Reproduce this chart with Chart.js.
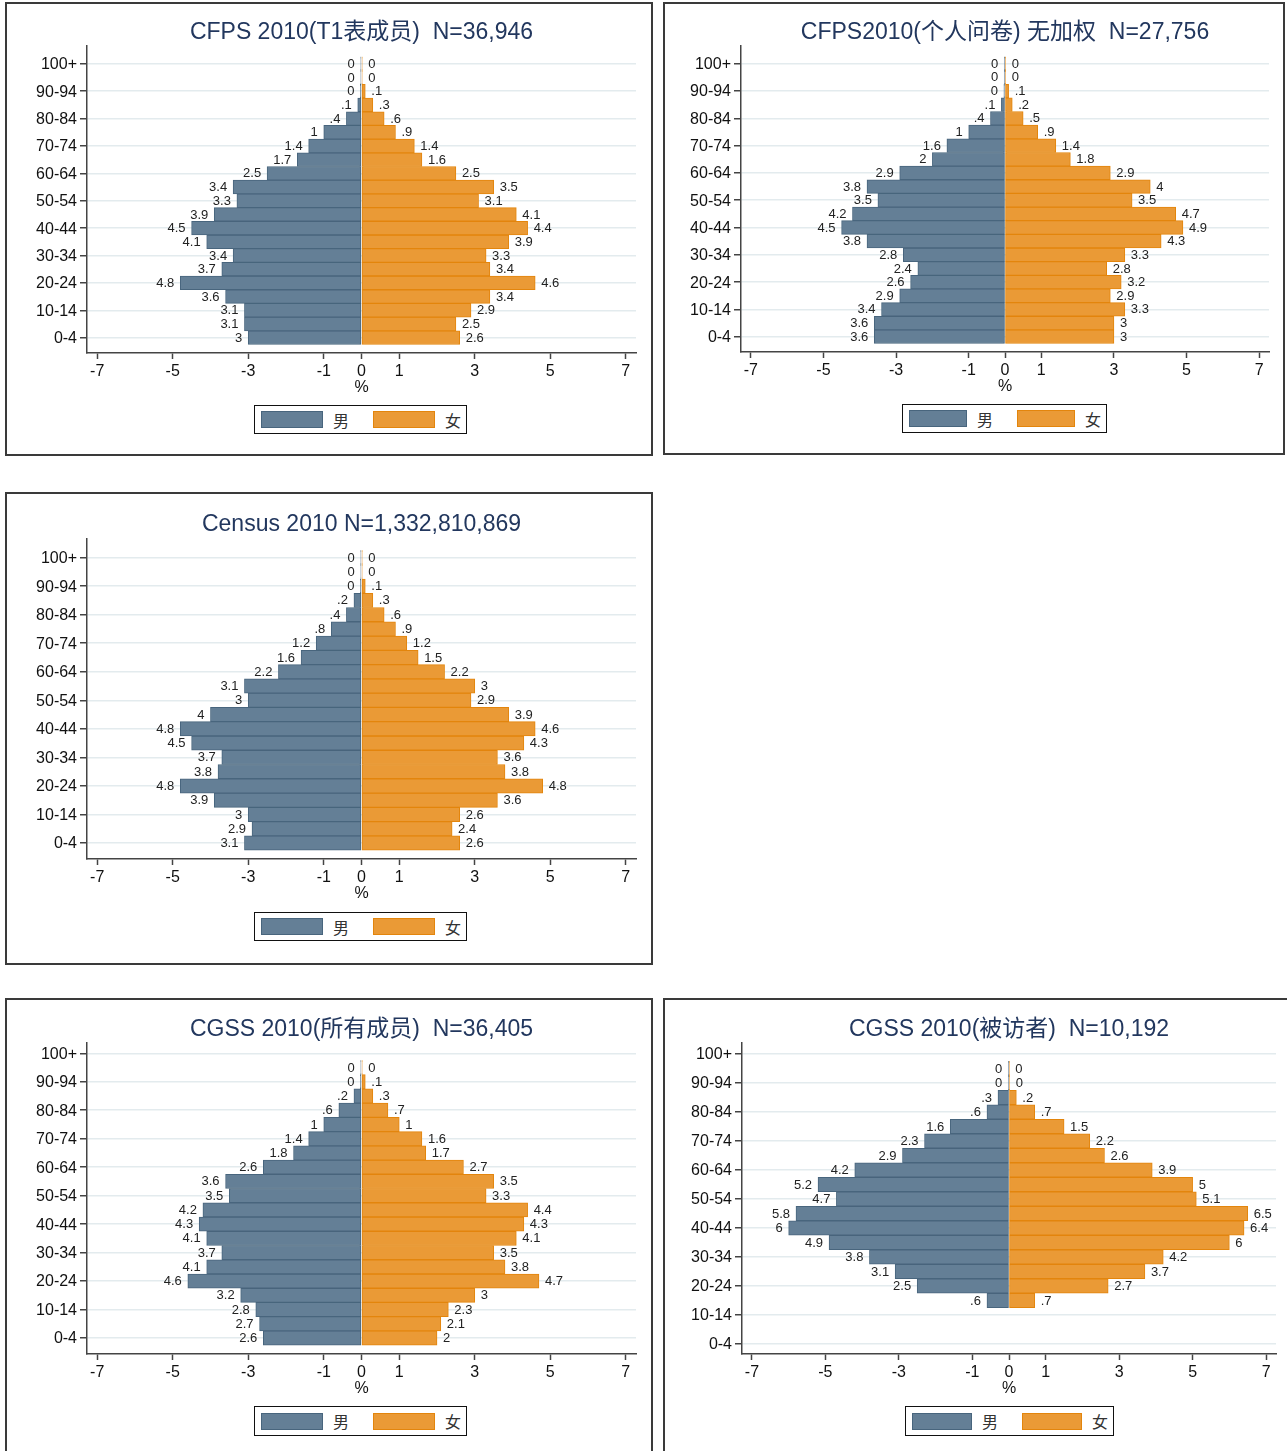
<!DOCTYPE html>
<html><head><meta charset="utf-8">
<script src="https://cdn.jsdelivr.net/npm/chart.js@4.4.1/dist/chart.umd.min.js"></script>
<style>
html,body{margin:0;padding:0;background:#fff;}
body{width:1287px;height:1451px;position:relative;overflow:hidden;font-family:"Liberation Sans","Noto Sans CJK SC",sans-serif;}
.panel{position:absolute;}
.panel canvas{position:absolute;left:0;top:0;}
.frame{position:absolute;left:0;top:0;right:0;bottom:0;border:2px solid #3a3a3a;box-sizing:border-box;pointer-events:none;}
.legend{position:absolute;border:1px solid #111;box-sizing:border-box;background:#fff;}
.sw{position:absolute;height:17px;box-sizing:border-box;border:1px solid;}
.lt{position:absolute;font-family:"Noto Sans CJK SC",sans-serif;font-size:16px;color:#333;line-height:16px;}
</style></head><body>
<script>
// ---- data ----
const ages = ['0-4','5-9','10-14','15-19','20-24','25-29','30-34','35-39','40-44','45-49',
  '50-54','55-59','60-64','65-69','70-74','75-79','80-84','85-89','90-94','95-99','100+'];
const yTickIdx = [0,2,4,6,8,10,12,14,16,18,20];
const xTicks = [-7,-5,-3,-1,0,1,3,5,7];
const seriesNames = ['男','女'];

// values in %, from 0-4 up to 100+ ("0" labels are tiny non-zero shares)
const cfpsT1Male   = [3,3.1,3.1,3.6,4.8,3.7,3.4,4.1,4.5,3.9,3.3,3.4,2.5,1.7,1.4,1,0.4,0.1,0.03,0.02,0.02];
const cfpsT1Female = [2.6,2.5,2.9,3.4,4.6,3.4,3.3,3.9,4.4,4.1,3.1,3.5,2.5,1.6,1.4,0.9,0.6,0.3,0.1,0.02,0.02];

const cfpsIndMale   = [3.6,3.6,3.4,2.9,2.6,2.4,2.8,3.8,4.5,4.2,3.5,3.8,2.9,2,1.6,1,0.4,0.1,0.03,0.02,0.02];
const cfpsIndFemale = [3,3,3.3,2.9,3.2,2.8,3.3,4.3,4.9,4.7,3.5,4,2.9,1.8,1.4,0.9,0.5,0.2,0.1,0.02,0.02];

const censusMale   = [3.1,2.9,3,3.9,4.8,3.8,3.7,4.5,4.8,4,3,3.1,2.2,1.6,1.2,0.8,0.4,0.2,0.03,0.02,0.02];
const censusFemale = [2.6,2.4,2.6,3.6,4.8,3.8,3.6,4.3,4.6,3.9,2.9,3,2.2,1.5,1.2,0.9,0.6,0.3,0.1,0.02,0.02];

const cgssAllMale   = [2.6,2.7,2.8,3.2,4.6,4.1,3.7,4.1,4.3,4.2,3.5,3.6,2.6,1.8,1.4,1,0.6,0.2,0.03,0.02,null];
const cgssAllFemale = [2,2.1,2.3,3,4.7,3.8,3.5,4.1,4.3,4.4,3.3,3.5,2.7,1.7,1.6,1,0.7,0.3,0.1,0.02,null];

const cgssRespMale   = [null,null,null,0.6,2.5,3.1,3.8,4.9,6,5.8,4.7,5.2,4.2,2.9,2.3,1.6,0.6,0.3,0.02,0.02,null];
const cgssRespFemale = [null,null,null,0.7,2.7,3.7,4.2,6,6.4,6.5,5.1,5,3.9,2.6,2.2,1.5,0.7,0.2,0.02,0.01,null];

const titles = ['CFPS 2010(T1表成员)  N=36,946','CFPS2010(个人问卷) 无加权  N=27,756',
  'Census 2010 N=1,332,810,869','CGSS 2010(所有成员)  N=36,405','CGSS 2010(被访者)  N=10,192'];

// ---- styles / layout ----
const MALE_FILL='#647f96', MALE_EDGE='#48657d', FEM_FILL='#ea9a36', FEM_EDGE='#e3850c';
const FONT='"Liberation Sans","Noto Sans CJK SC",sans-serif';
const XH = 44;

const panels = [
  {male:cfpsT1Male, female:cfpsT1Female, title:titles[0], yMin:-1.12, yMax:21.3,
   box:{x:5,y:2,w:648,h:454}, area:{l:82,r:631,t:44,b:351}, titleY:30.5, leg:{x:254,y:405,h:29,sw:62}},
  {male:cfpsIndMale, female:cfpsIndFemale, title:titles[1], yMin:-1.12, yMax:21.3,
   box:{x:663,y:2,w:622,h:453}, area:{l:78,r:606,t:44,b:350}, titleY:30.5, leg:{x:902,y:404,h:29,sw:58}},
  {male:censusMale, female:censusFemale, title:titles[2], yMin:-1.12, yMax:21.3,
   box:{x:5,y:492,w:648,h:473}, area:{l:82,r:631,t:47,b:367}, titleY:32.5, leg:{x:254,y:912,h:29,sw:62}},
  {male:cgssAllMale, female:cgssAllFemale, title:titles[3], yMin:-1.12, yMax:20.72,
   box:{x:5,y:998,w:648,h:480}, area:{l:82,r:631,t:45,b:356}, titleY:31.5, leg:{x:254,y:1406,h:30,sw:62}},
  {male:cgssRespMale, female:cgssRespFemale, title:titles[4], yMin:-0.69, yMax:20.76,
   box:{x:663,y:998,w:640,h:480}, area:{l:79,r:613,t:45,b:356}, titleY:31.5, leg:{x:905,y:1406,h:30,sw:60}}
];

function fmt(v){
  const r = Math.round(Math.abs(v)*10)/10;
  let s = String(r);
  if (s.startsWith('0.')) s = s.slice(1);
  return s;
}

const valueLabels = {
  id:'valueLabels',
  afterDatasetsDraw(chart){
    const ctx = chart.ctx;
    ctx.save();
    ctx.font = '13px ' + FONT;
    ctx.fillStyle = '#222';
    ctx.textBaseline = 'middle';
    chart.data.datasets.forEach((ds, di) => {
      const meta = chart.getDatasetMeta(di);
      meta.data.forEach((el, i) => {
        const raw = ds.data[i].x;
        if (raw == null) return;
        const p = el.getProps(['x','y'], true);
        const neg = raw < 0;
        ctx.textAlign = neg ? 'right' : 'left';
        ctx.fillText(fmt(raw), neg ? p.x - 6 : p.x + 6, p.y + 0.5);
      });
    });
    ctx.restore();
  }
};

panels.forEach(P => {
  const div = document.createElement('div');
  div.className = 'panel';
  Object.assign(div.style, {left:P.box.x+'px', top:P.box.y+'px', width:P.box.w+'px', height:P.box.h+'px'});
  const cv = document.createElement('canvas');
  cv.width = P.box.w; cv.height = P.box.h;
  cv.style.width = P.box.w+'px'; cv.style.height = P.box.h+'px';
  div.appendChild(cv);
  const fr = document.createElement('div'); fr.className='frame'; div.appendChild(fr);
  document.body.appendChild(div);

  // legend
  const lg = document.createElement('div');
  lg.className = 'legend';
  const sw = P.leg.sw;
  const t1 = 6 + sw + 10, s2 = t1 + 16 + 24, t2 = s2 + sw + 10, W = t2 + 16 + 7;
  Object.assign(lg.style, {left:P.leg.x+'px', top:P.leg.y+'px', width:W+'px', height:P.leg.h+'px'});
  const sTop = Math.round((P.leg.h - 2 - 17)/2);
  const tTop = Math.round((P.leg.h - 2 - 16)/2);
  lg.innerHTML =
    `<div class="sw" style="left:6px;top:${sTop}px;width:${sw}px;background:${MALE_FILL};border-color:${MALE_EDGE}"></div>`+
    `<div class="lt" style="left:${t1}px;top:${tTop}px">${seriesNames[0]}</div>`+
    `<div class="sw" style="left:${s2}px;top:${sTop}px;width:${sw}px;background:${FEM_FILL};border-color:${FEM_EDGE}"></div>`+
    `<div class="lt" style="left:${t2}px;top:${tTop}px">${seriesNames[1]}</div>`;
  document.body.appendChild(lg);

  const titleSize = 23, tLHf = 1.1, tLH = titleSize*tLHf;
  const tPadTop = P.titleY - tLH/2;
  const tPadBot = Math.max(0, P.area.t - tLH - tPadTop);

  new Chart(cv, {
    type:'bar',
    data:{datasets:[
      {label:seriesNames[0], data:P.male.map((v,i)=>({x: v==null?null:-v, y:i})),
       backgroundColor:MALE_FILL, borderColor:MALE_EDGE, borderWidth:1, borderSkipped:false,
       categoryPercentage:1, barPercentage:1},
      {label:seriesNames[1], data:P.female.map((v,i)=>({x: v, y:i})),
       backgroundColor:FEM_FILL, borderColor:FEM_EDGE, borderWidth:1, borderSkipped:false,
       categoryPercentage:1, barPercentage:1}
    ]},
    options:{
      indexAxis:'y', responsive:false, animation:false, devicePixelRatio:1,
      layout:{padding:{top:0,left:0,right:P.box.w - P.area.r, bottom:P.box.h - P.area.b - XH}},
      scales:{
        x:{type:'linear', min:-7.27, max:7.27, stacked:true, offset:false,
           afterBuildTicks:s=>{ s.ticks = xTicks.map(v=>({value:v})); },
           afterFit:s=>{ s.height = XH; },
           ticks:{callback:v=>String(v), font:{family:FONT,size:16}, color:'#111', padding:3, autoSkip:false, maxRotation:0},
           grid:{drawOnChartArea:false, drawTicks:true, offset:false, tickLength:6, tickColor:'#444', tickWidth:1.5},
           border:{display:true, color:'#444', width:1.5},
           title:{display:true, text:'%', font:{family:FONT,size:16}, color:'#111', padding:{top:0,bottom:0}}},
        y:{type:'linear', min:P.yMin, max:P.yMax, stacked:true, offset:false,
           afterBuildTicks:s=>{ s.ticks = yTickIdx.map(v=>({value:v})); },
           afterFit:s=>{ s.width = P.area.l; },
           ticks:{callback:v=>ages[v], font:{family:FONT,size:16}, color:'#111', padding:3, autoSkip:false, labelOffset:1},
           grid:{color:'#e3ebee', lineWidth:1.5, offset:false, drawTicks:true, tickLength:7, tickColor:'#444', tickWidth:1.5},
           border:{display:true, color:'#444', width:1.5}}
      },
      plugins:{
        legend:{display:false}, tooltip:{enabled:false},
        title:{display:true, fullSize:false, text:P.title, color:'#22375e',
               font:{family:FONT,size:titleSize,weight:'normal',lineHeight:tLHf},
               padding:{top:tPadTop,bottom:tPadBot}}
      }
    },
    plugins:[valueLabels]
  });
});
</script>
</body></html>
